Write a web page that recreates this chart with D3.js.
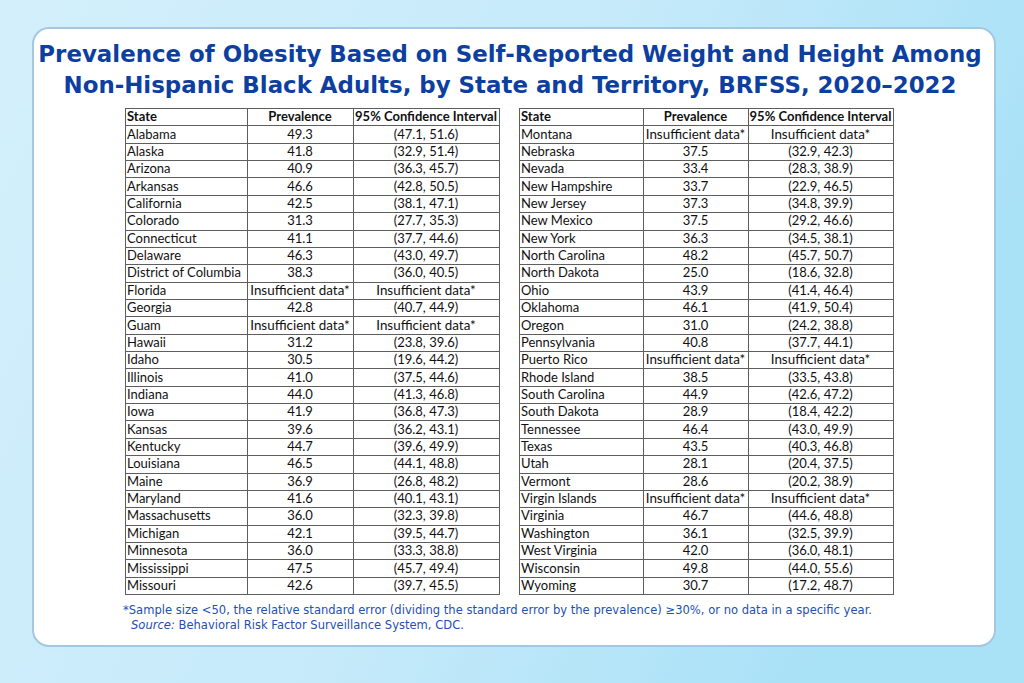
<!DOCTYPE html>
<html><head><meta charset="utf-8">
<script src="https://cdn.jsdelivr.net/npm/d3@7"></script>
<style>
html,body{margin:0;padding:0;}
body{width:1024px;height:683px;overflow:hidden;}
</style></head>
<body>
<svg id="chart" width="1024" height="683"></svg>
<script>
const states = ["Alabama","Alaska","Arizona","Arkansas","California","Colorado","Connecticut","Delaware","District of Columbia","Florida","Georgia","Guam","Hawaii","Idaho","Illinois","Indiana","Iowa","Kansas","Kentucky","Louisiana","Maine","Maryland","Massachusetts","Michigan","Minnesota","Mississippi","Missouri",
"Montana","Nebraska","Nevada","New Hampshire","New Jersey","New Mexico","New York","North Carolina","North Dakota","Ohio","Oklahoma","Oregon","Pennsylvania","Puerto Rico","Rhode Island","South Carolina","South Dakota","Tennessee","Texas","Utah","Vermont","Virgin Islands","Virginia","Washington","West Virginia","Wisconsin","Wyoming"];
const prevalence = [49.3,41.8,40.9,46.6,42.5,31.3,41.1,46.3,38.3,null,42.8,null,31.2,30.5,41.0,44.0,41.9,39.6,44.7,46.5,36.9,41.6,36.0,42.1,36.0,47.5,42.6,
null,37.5,33.4,33.7,37.3,37.5,36.3,48.2,25.0,43.9,46.1,31.0,40.8,null,38.5,44.9,28.9,46.4,43.5,28.1,28.6,null,46.7,36.1,42.0,49.8,30.7];
const ciLow = [47.1,32.9,36.3,42.8,38.1,27.7,37.7,43.0,36.0,null,40.7,null,23.8,19.6,37.5,41.3,36.8,36.2,39.6,44.1,26.8,40.1,32.3,39.5,33.3,45.7,39.7,
null,32.9,28.3,22.9,34.8,29.2,34.5,45.7,18.6,41.4,41.9,24.2,37.7,null,33.5,42.6,18.4,43.0,40.3,20.4,20.2,null,44.6,32.5,36.0,44.0,17.2];
const ciHigh = [51.6,51.4,45.7,50.5,47.1,35.3,44.6,49.7,40.5,null,44.9,null,39.6,44.2,44.6,46.8,47.3,43.1,49.9,48.8,48.2,43.1,39.8,44.7,38.8,49.4,45.5,
null,42.3,38.9,46.5,39.9,46.6,38.1,50.7,32.8,46.4,50.4,38.8,44.1,null,43.8,47.2,42.2,49.9,46.8,37.5,38.9,null,48.8,39.9,48.1,55.6,48.7];
const headers = ["State","Prevalence","95% Confidence Interval"];
const titleLines = ["Prevalence of Obesity Based on Self-Reported Weight and Height Among","Non-Hispanic Black Adults, by State and Territory, BRFSS, 2020\u20132022"];
const footnote = "*Sample size <50, the relative standard error (dividing the standard error by the prevalence) \u226530%, or no data in a specific year.";
const sourceLabel = "Source:";
const sourceText = " Behavioral Risk Factor Surveillance System, CDC.";
const insufficient = "Insufficient data*";

const svg = d3.select("#chart");
const defs = svg.append("defs");
const bg = defs.append("linearGradient").attr("id","bg").attr("x1","0").attr("y1","0").attr("x2","1").attr("y2","0.3");
bg.append("stop").attr("offset","0%").attr("stop-color","#d3effb");
bg.append("stop").attr("offset","55%").attr("stop-color","#c6eafa");
bg.append("stop").attr("offset","100%").attr("stop-color","#a9e1f7");
svg.append("rect").attr("width",1024).attr("height",683).attr("fill","url(#bg)");

svg.append("rect").attr("x",33).attr("y",28).attr("width",962).attr("height",618)
  .attr("rx",16).attr("fill","#ffffff").attr("stroke","#a4c8e2").attr("stroke-width",2);

svg.selectAll("text.title").data(titleLines).join("text")
  .attr("class","title").attr("x",510).attr("y",(d,i)=>62+i*31)
  .attr("text-anchor","middle").attr("font-family","DejaVu Sans, Verdana, sans-serif")
  .attr("font-weight","bold").attr("font-size",22.9).attr("fill","#0d3fa0").text(d=>d);

const rowsPerTable = 27;
const tables = [
  {x:[125,247,353,499], data:d3.range(0,27)},
  {x:[519,643,748,893], data:d3.range(27,54)}
];
const y = d3.scaleBand().domain(d3.range(rowsPerTable+1)).range([108,594]);
const fmt = d3.format(".1f");
const font = "Lato, 'Open Sans', sans-serif";

tables.forEach(t => {
  const g = svg.append("g");
  const cx = [ (t.x[1]+t.x[2])/2, (t.x[2]+t.x[3])/2 ];
  const rows = [{h:true, cells:headers}].concat(t.data.map(i => ({h:false, cells:[
    states[i],
    prevalence[i]==null ? insufficient : fmt(prevalence[i]),
    ciLow[i]==null ? insufficient : `(${fmt(ciLow[i])}, ${fmt(ciHigh[i])})`
  ]})));
  g.selectAll("line.h").data(d3.range(rowsPerTable+2)).join("line")
    .attr("x1",t.x[0]).attr("x2",t.x[3])
    .attr("y1",i=> i<=rowsPerTable ? Math.round(y(i))+0.5 : 594.5)
    .attr("y2",i=> i<=rowsPerTable ? Math.round(y(i))+0.5 : 594.5)
    .attr("stroke","#5e5e5e").attr("stroke-width",1);
  g.selectAll("line.v").data(t.x).join("line")
    .attr("x1",d=>d+0.5).attr("x2",d=>d+0.5).attr("y1",108).attr("y2",595)
    .attr("stroke","#5e5e5e").attr("stroke-width",1);
  rows.forEach((r,ri) => {
    const yy = y(ri)+y.bandwidth()/2+4.6;
    g.append("text").attr("x",t.x[0]+2).attr("y",yy).text(r.cells[0])
      .attr("font-family",font).attr("font-size",13).attr("font-weight",r.h?"bold":"normal").attr("fill","#111");
    [1,2].forEach(c => {
      g.append("text").attr("x",cx[c-1]).attr("y",yy).attr("text-anchor","middle").text(r.cells[c])
        .attr("font-family",font).attr("font-size",r.cells[c]===insufficient?13.4:13).attr("font-weight",r.h?"bold":"normal").attr("fill","#111");
    });
  });
});

svg.append("text").attr("x",123).attr("y",614).attr("font-family","DejaVu Sans, Verdana, sans-serif")
  .attr("font-size",11.55).attr("fill","#1f4fb0").text(footnote);
const src = svg.append("text").attr("x",131).attr("y",629).attr("font-family","DejaVu Sans, Verdana, sans-serif")
  .attr("font-size",11.55).attr("fill","#1f4fb0");
src.append("tspan").attr("font-style","italic").text(sourceLabel);
src.append("tspan").text(sourceText);
</script>
</body></html>
